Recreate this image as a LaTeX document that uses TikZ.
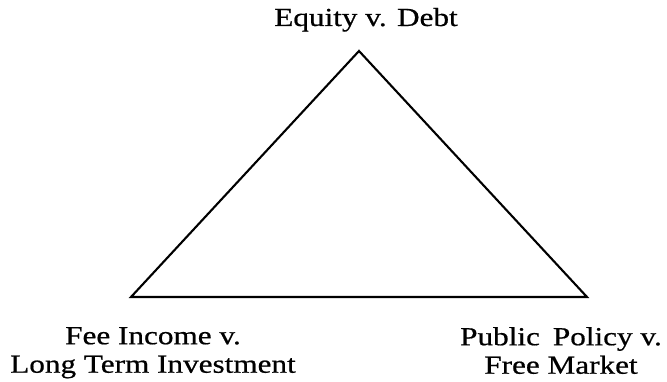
\documentclass[tikz,border=0pt]{standalone}
\usepackage{fontspec}
\setmainfont[FakeStretch=1.2,FakeBold=0.6]{Liberation Serif}
\begin{document}
\begin{tikzpicture}[x=1pt,y=-1pt,
  lbl/.style={font=\fontsize{26}{28.5}\selectfont, inner sep=0pt, align=center},
  edge/.style={line width=2.1pt, line join=miter}]
\useasboundingbox (0,0) rectangle (667,382);
\coordinate (top) at (359,51);
\coordinate (bl) at (131,297);
\coordinate (br) at (587,297);
\draw[edge] (top) -- (bl) -- (br) -- cycle;
\node[lbl, anchor=base] (eq) at (366,26) {Equity v. Debt};
\node[lbl, anchor=north] (fee) at (153,327) {Fee Income v.\\Long Term Investment};
\node[lbl, anchor=north] (pub) at (561,327) {Public\hspace{0.5em}Policy v.\\Free Market};
\end{tikzpicture}
\end{document}
